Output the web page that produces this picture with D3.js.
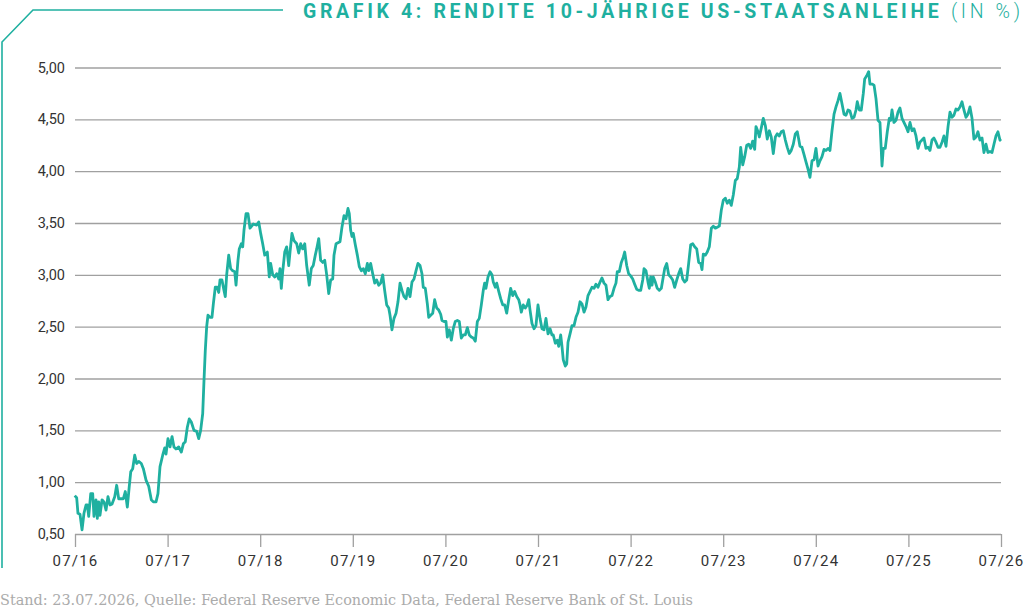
<!DOCTYPE html>
<html>
<head>
<meta charset="utf-8">
<script src="https://cdn.jsdelivr.net/npm/d3@7"></script>
<style>
  body { margin: 0; background: #fff; }
  svg { display: block; }
</style>
</head>
<body>
<div id="chart"></div>
<script>
// Tick labels and values
const xTickYears = [2016.5, 2017.5, 2018.5, 2019.5, 2020.5, 2021.5, 2022.5, 2023.5, 2024.5, 2025.5, 2026.5];
const xTickLabels = ['07/16', '07/17', '07/18', '07/19', '07/20', '07/21', '07/22', '07/23', '07/24', '07/25', '07/26'];
const yTicks = [0.5, 1.0, 1.5, 2.0, 2.5, 3.0, 3.5, 4.0, 4.5, 5.0];

// Dates as decimal years
const dates = [
  2016.497, 2016.518, 2016.532, 2016.554, 2016.576, 2016.597, 2016.619, 2016.633, 2016.648, 2016.670,
  2016.691, 2016.705, 2016.727, 2016.741, 2016.756, 2016.770, 2016.792, 2016.813, 2016.835, 2016.856,
  2016.878, 2016.900, 2016.929, 2016.950, 2016.972, 2016.994, 2017.022, 2017.043, 2017.065, 2017.086,
  2017.102, 2017.123, 2017.145, 2017.166, 2017.188, 2017.216, 2017.238, 2017.267, 2017.296, 2017.324,
  2017.346, 2017.375, 2017.396, 2017.418, 2017.447, 2017.469, 2017.483, 2017.504, 2017.526, 2017.548,
  2017.569, 2017.591, 2017.620, 2017.648, 2017.670, 2017.691, 2017.713, 2017.734, 2017.756, 2017.785,
  2017.814, 2017.836, 2017.857, 2017.879, 2017.893, 2017.907, 2017.922, 2017.936, 2017.958, 2017.979,
  2017.994, 2018.015, 2018.037, 2018.052, 2018.066, 2018.087, 2018.109, 2018.123, 2018.138, 2018.160,
  2018.181, 2018.203, 2018.225, 2018.239, 2018.260, 2018.274, 2018.296, 2018.311, 2018.325, 2018.347,
  2018.368, 2018.390,
  2018.425, 2018.462, 2018.484, 2018.505, 2018.527, 2018.549, 2018.577, 2018.598, 2018.613, 2018.635,
  2018.657, 2018.678, 2018.700, 2018.714, 2018.728, 2018.743, 2018.765, 2018.786, 2018.808, 2018.822,
  2018.843, 2018.865, 2018.894, 2018.916, 2018.937, 2018.959, 2018.981, 2019.002, 2019.030, 2019.052,
  2019.073, 2019.095, 2019.110, 2019.132, 2019.153, 2019.175, 2019.197, 2019.218, 2019.240, 2019.261,
  2019.283, 2019.297, 2019.319, 2019.340, 2019.362, 2019.383, 2019.405, 2019.427, 2019.448, 2019.462,
  2019.477, 2019.491, 2019.505, 2019.527, 2019.549, 2019.570, 2019.592, 2019.613, 2019.635, 2019.657,
  2019.672, 2019.693, 2019.715, 2019.737, 2019.758, 2019.780, 2019.801, 2019.823, 2019.844, 2019.866,
  2019.888, 2019.902, 2019.923, 2019.945, 2019.967, 2019.988, 2020.010, 2020.031, 2020.053, 2020.075,
  2020.096, 2020.118, 2020.139, 2020.161, 2020.183, 2020.204, 2020.226, 2020.247, 2020.261, 2020.283,
  2020.305, 2020.320, 2020.341, 2020.363, 2020.384, 2020.406, 2020.428,
  2020.449, 2020.463, 2020.485, 2020.506, 2020.521, 2020.542, 2020.564, 2020.585, 2020.607, 2020.629,
  2020.650, 2020.672, 2020.693, 2020.715, 2020.737, 2020.758, 2020.780, 2020.801, 2020.823, 2020.845,
  2020.866, 2020.888, 2020.909, 2020.924, 2020.938, 2020.960, 2020.982, 2021.003, 2021.017, 2021.039,
  2021.054, 2021.076, 2021.097, 2021.119, 2021.140, 2021.162, 2021.184, 2021.205, 2021.227, 2021.248,
  2021.270, 2021.292, 2021.306, 2021.320, 2021.341, 2021.363, 2021.384, 2021.400, 2021.414, 2021.435,
  2021.457, 2021.478, 2021.500, 2021.522, 2021.543, 2021.565, 2021.586, 2021.608, 2021.630, 2021.651,
  2021.665, 2021.687, 2021.708, 2021.724, 2021.745, 2021.759, 2021.773, 2021.795, 2021.810, 2021.824,
  2021.846, 2021.867, 2021.889, 2021.910, 2021.932, 2021.954, 2021.975, 2021.997, 2022.018, 2022.040,
  2022.062, 2022.083, 2022.105, 2022.126, 2022.148, 2022.170, 2022.191, 2022.213, 2022.234, 2022.256,
  2022.278, 2022.299, 2022.321, 2022.342, 2022.356, 2022.378, 2022.400, 2022.421, 2022.436, 2022.458,
  2022.479, 2022.501, 2022.523, 2022.544, 2022.566, 2022.587, 2022.609,
  2022.631, 2022.645, 2022.666, 2022.688, 2022.702, 2022.717, 2022.731, 2022.745, 2022.767, 2022.788,
  2022.810, 2022.832, 2022.847, 2022.868, 2022.890, 2022.911, 2022.933, 2022.955, 2022.976, 2022.998,
  2023.019, 2023.041, 2023.063, 2023.084, 2023.106, 2023.127, 2023.149, 2023.171, 2023.192, 2023.214,
  2023.235, 2023.257, 2023.271, 2023.285, 2023.307, 2023.328, 2023.350, 2023.372, 2023.393, 2023.415,
  2023.436, 2023.458, 2023.479, 2023.501, 2023.523, 2023.544, 2023.566, 2023.587, 2023.609, 2023.631,
  2023.652, 2023.674, 2023.689, 2023.711, 2023.732, 2023.754, 2023.775, 2023.797, 2023.818, 2023.840,
  2023.854, 2023.876, 2023.890, 2023.912, 2023.933, 2023.955, 2023.976, 2023.998, 2024.019, 2024.041,
  2024.063, 2024.084, 2024.106, 2024.127, 2024.149, 2024.171, 2024.192, 2024.214, 2024.235, 2024.257,
  2024.279, 2024.300, 2024.315,
  2024.329, 2024.351, 2024.373, 2024.394, 2024.416, 2024.437, 2024.459, 2024.481, 2024.502, 2024.524,
  2024.545, 2024.567, 2024.589, 2024.610, 2024.632, 2024.653, 2024.675, 2024.697, 2024.718, 2024.740,
  2024.761, 2024.783, 2024.805, 2024.826, 2024.848, 2024.869, 2024.891, 2024.913, 2024.934, 2024.948,
  2024.970, 2024.991, 2025.013, 2025.028, 2025.050, 2025.071, 2025.085, 2025.107, 2025.129, 2025.150,
  2025.172, 2025.193, 2025.215, 2025.229, 2025.250, 2025.272, 2025.294, 2025.309, 2025.323, 2025.344,
  2025.366, 2025.388, 2025.409, 2025.431, 2025.452, 2025.474, 2025.496, 2025.517, 2025.539, 2025.560,
  2025.582, 2025.604, 2025.625, 2025.647, 2025.668, 2025.690, 2025.712, 2025.733, 2025.755, 2025.776,
  2025.798, 2025.820, 2025.841, 2025.863, 2025.884, 2025.906, 2025.928, 2025.949, 2025.971, 2025.992,
  2026.014, 2026.035, 2026.057, 2026.079, 2026.100, 2026.122, 2026.143, 2026.165, 2026.187, 2026.208,
  2026.230, 2026.251, 2026.273, 2026.295, 2026.316, 2026.338, 2026.359, 2026.381, 2026.403, 2026.424,
  2026.446, 2026.467, 2026.489, 2026.500
];

// Yield in percent
const yields = [
  0.87, 0.85, 0.70, 0.69, 0.54, 0.70, 0.78, 0.78, 0.67, 0.89,
  0.89, 0.67, 0.83, 0.65, 0.81, 0.68, 0.83, 0.81, 0.73, 0.86,
  0.78, 0.79, 0.86, 0.97, 0.84, 0.84, 0.84, 0.91, 0.76, 0.96,
  1.10, 1.13, 1.26, 1.18, 1.20, 1.18, 1.13, 1.02, 0.96, 0.83,
  0.81, 0.81, 0.89, 1.15, 1.26, 1.33, 1.27, 1.42, 1.34, 1.44,
  1.34, 1.32, 1.34, 1.29, 1.37, 1.39, 1.53, 1.61, 1.58, 1.50,
  1.49, 1.42, 1.50, 1.66, 1.98, 2.27, 2.50, 2.61, 2.59, 2.59,
  2.72, 2.88, 2.88, 2.83, 2.95, 2.95, 2.85, 2.79, 3.00, 3.19,
  3.06, 3.04, 3.03, 2.90, 3.14, 3.25, 3.30, 3.27, 3.43, 3.59,
  3.59, 3.45,
  3.49, 3.48, 3.51, 3.40, 3.30, 3.19, 3.22, 2.98, 3.11, 3.00,
  2.98, 3.01, 2.96, 3.06, 2.87, 3.03, 3.22, 3.27, 3.09, 3.22,
  3.40, 3.33, 3.30, 3.21, 3.30, 3.25, 3.30, 3.09, 2.90, 3.06,
  3.09, 3.19, 3.25, 3.35, 3.14, 3.12, 3.14, 3.00, 2.82, 2.95,
  2.96, 3.19, 3.30, 3.31, 3.32, 3.46, 3.57, 3.54, 3.64, 3.59,
  3.43, 3.37, 3.40, 3.29, 3.19, 3.08, 3.04, 3.06, 3.01, 3.11,
  3.04, 3.11, 3.01, 2.92, 2.95, 2.90, 2.92, 3.00, 2.85, 2.71,
  2.68, 2.61, 2.47, 2.58, 2.63, 2.74, 2.92, 2.85, 2.79, 2.77,
  2.87, 2.79, 2.93, 2.96, 3.04, 3.11, 3.09, 3.01, 2.88, 2.87,
  2.72, 2.59, 2.61, 2.63, 2.76, 2.68, 2.66,
  2.62, 2.56, 2.55, 2.55, 2.40, 2.47, 2.37, 2.48, 2.55, 2.56,
  2.55, 2.39, 2.42, 2.42, 2.49, 2.42, 2.40, 2.39, 2.36, 2.55,
  2.58, 2.71, 2.85, 2.92, 2.87, 2.98, 3.03, 3.00, 2.93, 2.88,
  2.92, 2.84, 2.77, 2.71, 2.71, 2.63, 2.76, 2.87, 2.80, 2.84,
  2.79, 2.76, 2.71, 2.64, 2.71, 2.68, 2.71, 2.76, 2.66, 2.53,
  2.48, 2.51, 2.71, 2.58, 2.48, 2.47, 2.58, 2.43, 2.48, 2.42,
  2.42, 2.34, 2.37, 2.31, 2.42, 2.31, 2.18, 2.12, 2.14, 2.35,
  2.43, 2.51, 2.51, 2.59, 2.64, 2.74, 2.72, 2.64, 2.69, 2.80,
  2.84, 2.88, 2.87, 2.91, 2.88, 2.93, 2.97, 2.92, 2.90, 2.76,
  2.79, 2.80, 2.87, 2.92, 3.03, 3.03, 3.12, 3.17, 3.22, 3.09,
  3.01, 2.99, 2.96, 2.91, 2.86, 2.85, 2.85,
  2.95, 3.06, 3.04, 2.93, 2.87, 2.98, 2.90, 2.98, 2.93, 2.87,
  2.85, 2.87, 2.95, 3.06, 3.11, 3.00, 2.98, 2.95, 2.88, 2.95,
  3.01, 3.06, 2.96, 2.93, 2.95, 3.11, 3.29, 3.30, 3.27, 3.25,
  3.12, 3.11, 3.05, 3.20, 3.19, 3.22, 3.27, 3.45, 3.47, 3.45,
  3.46, 3.47, 3.62, 3.72, 3.74, 3.69, 3.72, 3.67, 3.77, 3.91,
  3.93, 4.04, 4.23, 4.06, 4.14, 4.25, 4.26, 4.22, 4.29, 4.21,
  4.43, 4.38, 4.33, 4.42, 4.51, 4.44, 4.31, 4.39, 4.33, 4.17,
  4.33, 4.36, 4.34, 4.38, 4.39, 4.30, 4.23, 4.17, 4.20, 4.26,
  4.36, 4.38, 4.31,
  4.24, 4.23, 4.16, 4.09, 4.02, 3.94, 4.10, 4.11, 4.22, 4.05,
  4.10, 4.14, 4.21, 4.20, 4.22, 4.20, 4.39, 4.55, 4.62, 4.68,
  4.75, 4.65, 4.55, 4.54, 4.59, 4.58, 4.51, 4.52, 4.59, 4.67,
  4.59, 4.59, 4.75, 4.89, 4.92, 4.96, 4.84, 4.84, 4.83, 4.70,
  4.49, 4.47, 4.05, 4.22, 4.22, 4.38, 4.51, 4.49, 4.59, 4.47,
  4.49, 4.57, 4.61, 4.51, 4.47, 4.43, 4.38, 4.47, 4.39, 4.41,
  4.34, 4.22, 4.28, 4.30, 4.32, 4.22, 4.23, 4.20, 4.30, 4.32,
  4.28, 4.23, 4.23, 4.28, 4.34, 4.24, 4.43, 4.57, 4.52, 4.54,
  4.60, 4.59, 4.62, 4.67, 4.59, 4.52, 4.55, 4.62, 4.51, 4.31,
  4.33, 4.38, 4.30, 4.32, 4.18, 4.26, 4.18, 4.19, 4.18, 4.26,
  4.34, 4.38, 4.30, 4.29
];

const data = dates.map((d, i) => ({ date: d, value: yields[i] }));

const W = 1024, H = 612;
const margin = { top: 67.5, right: 23, bottom: 78, left: 75 };
const width = W - margin.left - margin.right,
      height = H - margin.top - margin.bottom;

const teal = '#1fb0a0';
const locale = d3.formatLocale({ decimal: ',', thousands: '.', grouping: [3], currency: ['', ' €'] });
const fmt = locale.format('.2f');

const svg = d3.select('#chart').append('svg')
    .attr('width', W)
    .attr('height', H);

// Frame decoration top-left
svg.append('path')
    .attr('d', d3.line()([[283, 10], [33, 10], [2, 42], [2, 568]]))
    .attr('fill', 'none')
    .attr('stroke', teal)
    .attr('stroke-width', 1.6);

// Title, stretched with letter-spacing to the original width
const title = svg.append('text')
    .attr('x', 303)
    .attr('y', 17.5)
    .attr('fill', teal)
    .style('font-family', 'Roboto, "Noto Sans", sans-serif')
    .style('font-size', '19.5px');
title.append('tspan').attr('font-weight', 700).text('GRAFIK 4: RENDITE 10-JÄHRIGE US-STAATSANLEIHE ');
title.append('tspan').attr('font-weight', 300).text('(IN %)');
const rawW = title.node().getComputedTextLength();
const nChars = title.text().length;
title.style('letter-spacing', ((1020 - 303 - rawW) / (nChars - 1)) + 'px');

const g = svg.append('g')
    .attr('transform', 'translate(' + margin.left + ',' + margin.top + ')');

const x = d3.scaleLinear().domain([2016.5, 2026.5]).range([0, width]);
const y = d3.scaleLinear().domain([0.5, 5.0]).range([height, 0]);

// Gridlines + y labels
const yAxis = g.append('g')
    .call(d3.axisLeft(y).tickValues(yTicks).tickSize(-width).tickPadding(10).tickFormat(fmt));
yAxis.select('.domain').remove();
yAxis.selectAll('.tick line').attr('stroke', '#a0a0a0').attr('stroke-width', 1.3);
yAxis.selectAll('.tick text')
    .attr('fill', '#333')
    .style('font-family', 'Roboto, "Noto Sans", sans-serif')
    .style('font-size', '14.5px');

// X axis ticks
const xAxis = g.append('g')
    .attr('transform', 'translate(0,' + height + ')')
    .call(d3.axisBottom(x).tickValues(xTickYears).tickSize(13).tickPadding(8)
        .tickFormat((d, i) => xTickLabels[i]));
xAxis.select('.domain').remove();
xAxis.selectAll('.tick line').attr('stroke', '#a0a0a0').attr('stroke-width', 1.3);
xAxis.selectAll('.tick text')
    .attr('fill', '#333')
    .style('font-family', 'Roboto, "Noto Sans", sans-serif')
    .style('font-size', '15px')
    .style('letter-spacing', '1.2px');

// Yield line
const line = d3.line()
    .x(d => x(d.date))
    .y(d => y(d.value));

g.append('path')
    .datum(data)
    .attr('fill', 'none')
    .attr('stroke', teal)
    .attr('stroke-width', 2.8)
    .attr('stroke-linejoin', 'round')
    .attr('d', line);

// Source note
svg.append('text')
    .attr('x', 0)
    .attr('y', 605)
    .attr('fill', '#ababab')
    .attr('textLength', 693)
    .attr('lengthAdjust', 'spacingAndGlyphs')
    .style('font-family', '"DejaVu Serif Condensed", "DejaVu Serif", serif')
    .style('font-size', '15px')
    .text('Stand: 23.07.2026, Quelle: Federal Reserve Economic Data, Federal Reserve Bank of St. Louis');
</script>
</body>
</html>
